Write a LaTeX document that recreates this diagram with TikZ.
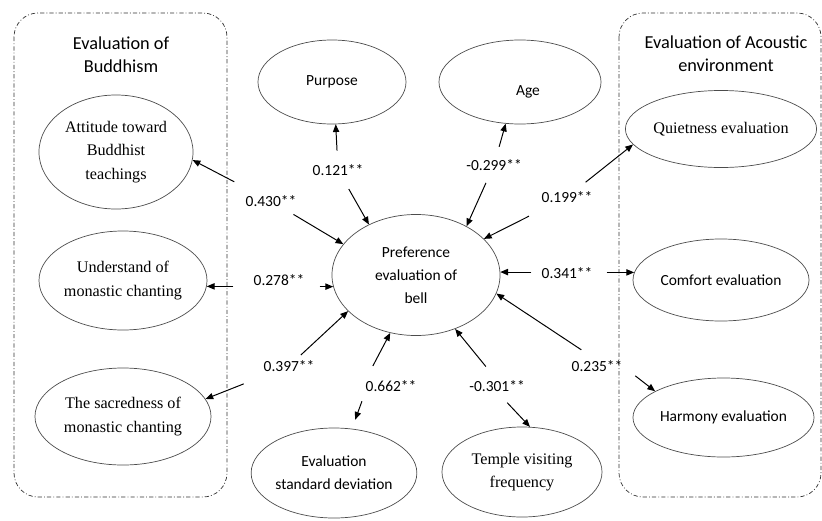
\documentclass[tikz,border=0pt]{standalone}
\usepackage{fontspec}
\setmainfont{Liberation Serif}
\newfontfamily\carlito{Carlito}
\usetikzlibrary{arrows.meta,shapes.geometric}

\begin{document}
\begin{tikzpicture}[x=0.025cm, y=-0.025cm,
		oval/.style={draw=black!70, line width=0.5pt, ellipse, inner sep=0pt, align=center},
		romantext/.style={font=\fontsize{11.5}{16.5}\selectfont},
		sanstext/.style={font=\carlito\fontsize{11}{16.5}\selectfont, align=center},
		titletext/.style={font=\carlito\fontsize{13}{16.5}\selectfont, align=center},
		coef/.style={sanstext, inner sep=0pt},
		groupbox/.style={draw=black!80, line width=0.5pt, rounded corners=0.6cm, dash pattern=on 3pt off 1.5pt on 0.6pt off 1.5pt},
		effect/.style={-{Triangle[length=5.5pt,width=4.5pt]}, line width=0.7pt}]
		%%%%% START %%%%%
		
		\useasboundingbox (0,0) rectangle (822,520);
		
		\draw[groupbox] (14,13) rectangle (227,497);
		\draw[groupbox] (619,13) rectangle (821,497);
		\node[titletext] (tbud) at (121,54.5) {Evaluation of\\Buddhism};
		\node[titletext] (tacou) at (726,53.5) {Evaluation of Acoustic\\environment};
		
		\node[oval, romantext, minimum width=3.85cm, minimum height=2.85cm] (att) at (116,152) {Attitude toward\\Buddhist\\teachings};
		\node[oval, romantext, minimum width=4.2cm, minimum height=2.475cm] (und) at (123,280.5) {Understand of\\monastic chanting};
		\node[oval, romantext, minimum width=4.4cm, minimum height=2.425cm] (sac) at (123,416.5) {The sacredness of\\monastic chanting};
		
		\node[oval, sanstext, minimum width=3.7cm, minimum height=2.1cm] (purp) at (332,82) {Purpose};
		\node[oval, minimum width=4.05cm, minimum height=2.1cm] (age) at (520,82) {};
		\node[sanstext] (agetxt) at (528,92) {Age};
		\node[oval, sanstext, minimum width=4.2cm, minimum height=3.025cm] (pref) at (416,275) {Preference\\evaluation of\\bell};
		\node[oval, sanstext, minimum width=4.05cm, minimum height=2.25cm] (esd) at (334,473) {Evaluation\\standard deviation};
		\node[oval, romantext, minimum width=4cm, minimum height=2.25cm] (temp) at (522,472) {Temple visiting\\frequency};
		
		\node[oval, romantext, minimum width=4.4cm, minimum height=1.925cm] (quiet) at (721,129) {Quietness evaluation};
		\node[oval, sanstext, minimum width=4.4cm, minimum height=2.05cm] (comf) at (721,280) {Comfort evaluation};
		\node[oval, sanstext, minimum width=4.525cm, minimum height=1.975cm] (harm) at (723.5,417.5) {Harmony evaluation};
		
		\node[coef] (c430) at (271,201) {0.430**};
		\node[coef] (c121) at (338,170) {0.121**};
		\node[coef] (c299) at (494,165) {-0.299**};
		\node[coef] (c199) at (567,197) {0.199**};
		\node[coef] (c278) at (279,280) {0.278**};
		\node[coef] (c341) at (567,273) {0.341**};
		\node[coef] (c397) at (289,366) {0.397**};
		\node[coef] (c662) at (391,386) {0.662**};
		\node[coef] (c301) at (497,386) {-0.301**};
		\node[coef] (c235) at (597,366) {0.235**};
		
		\draw[effect, shorten <=0.72cm] (c430) -- (att.-6);
		\draw[effect, shorten <=0.37cm] (c430) -- (pref.157);
		\draw[effect, shorten <=0.34cm] (c121) -- (purp.275);
		\draw[effect, shorten <=0.38cm] (c121) -- (pref.133);
		\draw[effect, shorten <=0.32cm] (c299) -- (age.251);
		\draw[effect, shorten <=0.33cm] (c299) -- (pref.44);
		\draw[effect, shorten <=0.36cm] (c199) -- (quiet.190);
		\draw[effect, shorten <=0.74cm] (c199) -- (pref.28);
		\draw[effect, shorten <=0.5cm] (c278.west |- und.-4) -- (und.-4);
		\draw[effect, shorten <=0.375cm] (c278.east |- pref.188) -- (pref.188);
		\draw[effect, shorten <=0.25cm] (c341.west |- pref.2) -- (pref.2);
		\draw[effect, shorten <=0.35cm] (c341.east |- comf.175) -- (comf.175);
		\draw[effect, shorten <=0.19cm] (c397) -- (pref.208);
		\draw[effect, shorten <=0.82cm] (c397) -- (sac.12);
		\draw[effect, shorten <=0.4cm] (c662.north west) -- (pref.246);
		\draw[effect, shorten <=0.25cm, shorten >=0.24cm] (c662.south west) -- (esd.68);
		\draw[effect, shorten <=0.44cm] (c301.north) -- (pref.306);
		\draw[effect, shorten <=0.37cm] (c301.south) -- (temp.80);
		\draw[effect, shorten <=0.47cm] (c235.north) -- (pref.-13);
		\draw[effect, shorten <=0.4cm] (c235.east) -- (harm.159);
		
		%%%%% END %%%%%
\end{tikzpicture}
\end{document}
